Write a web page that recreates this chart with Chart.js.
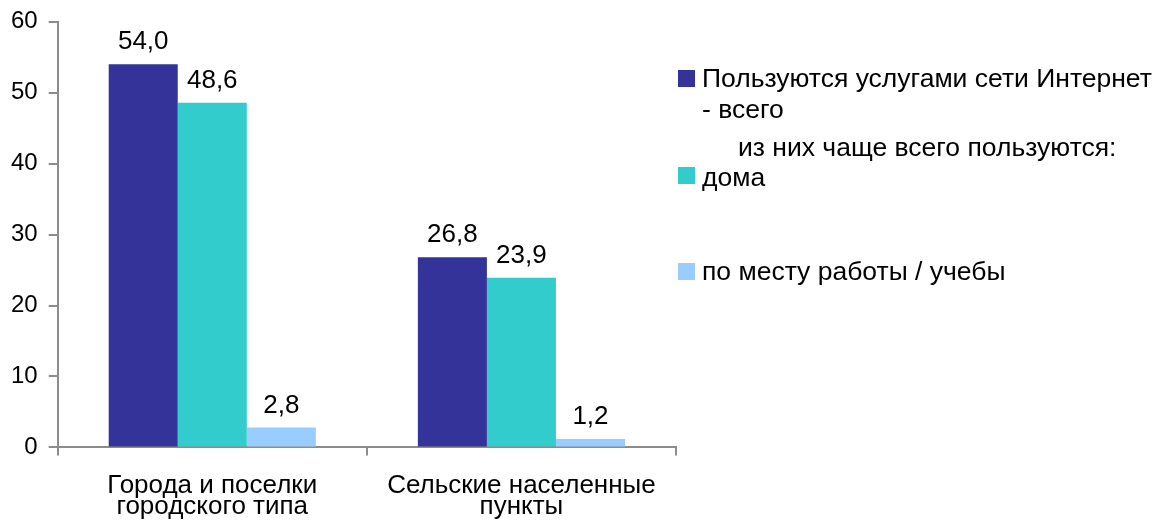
<!DOCTYPE html>
<html>
<head>
<meta charset="utf-8">
<script src="https://cdn.jsdelivr.net/npm/chart.js@4.4.1/dist/chart.umd.min.js"></script>
<style>
    html, body { margin: 0; padding: 0; background: #fff; }
    #wrap { position: relative; width: 1156px; height: 531px; font-family: 'Liberation Sans', Arial, sans-serif; }
    #legend { position: absolute; left: 0; top: 0; font-size: 26.5px; color: #000; }
    .lg-item { position: absolute; white-space: nowrap; line-height: 31px; }
    .lg-box { position: absolute; width: 17px; height: 17px; }
</style>
</head>
<body>
<div id="wrap">
    <canvas id="barChart" width="1156" height="531"></canvas>
    <div id="legend"></div>
</div>
<script>
    'use strict';

    // Categories (x axis)
    const categories = [['Города и поселки', 'городского типа'], ['Сельские населенные', 'пункты']];

    // Series
    const seriesNames = ['Пользуются услугами сети Интернет - всего', 'дома', 'по месту работы / учебы'];
    const totalValues = [54.0, 26.8];
    const homeValues = [48.6, 23.9];
    const workValues = [2.8, 1.2];

    // Y axis ticks
    const yTicks = [0, 10, 20, 30, 40, 50, 60];

    const legendSubtitle = 'из них чаще всего пользуются:';

    const colors = ['#333399', '#33CCCC', '#99CCFF'];
    const fontFamily = "'Liberation Sans', Arial, sans-serif";
    const axisColor = '#8c8c8c';

    const barData = {
        labels: categories,
        datasets: [totalValues, homeValues, workValues].map(function (vals, i) {
            return {
                label: seriesNames[i],
                data: vals,
                backgroundColor: colors[i],
                categoryPercentage: 0.67,
                barPercentage: 1.0
            };
        })
    };

    // draws value labels above each bar
    const valueLabels = {
        id: 'valueLabels',
        afterDatasetsDraw: function (chart) {
            const ctx = chart.ctx;
            ctx.save();
            ctx.font = '26px ' + fontFamily;
            ctx.fillStyle = '#000';
            ctx.textAlign = 'center';
            ctx.textBaseline = 'alphabetic';
            chart.data.datasets.forEach(function (ds, i) {
                chart.getDatasetMeta(i).data.forEach(function (bar, j) {
                    const txt = ds.data[j].toFixed(1).replace('.', ',');
                    ctx.fillText(txt, bar.x, bar.y - 15);
                });
            });
            ctx.restore();
        }
    };

    new Chart(document.getElementById('barChart'), {
        type: 'bar',
        data: barData,
        plugins: [valueLabels],
        options: {
            responsive: false,
            animation: false,
            layout: { padding: { left: 0, right: 480, top: 3, bottom: -6 } },
            plugins: { legend: { display: false }, tooltip: { enabled: false } },
            scales: {
                x: {
                    grid: { display: true, drawOnChartArea: false, drawTicks: true, tickLength: 8, color: axisColor, lineWidth: 2 },
                    border: { color: axisColor, width: 2 },
                    ticks: { color: '#000', font: { family: fontFamily, size: 26, lineHeight: 0.8 }, padding: 20, maxRotation: 0 }
                },
                y: {
                    min: 0,
                    max: 60,
                    afterBuildTicks: function (axis) {
                        axis.ticks = yTicks.map(function (v) { return { value: v }; });
                    },
                    grid: { display: true, drawOnChartArea: false, drawTicks: true, tickLength: 9, color: axisColor, lineWidth: 2 },
                    border: { color: axisColor, width: 2 },
                    ticks: { color: '#000', font: { family: fontFamily, size: 24, lineHeight: 0.9 }, padding: 11 }
                }
            }
        }
    });

    // legend on the right
    const legend = document.getElementById('legend');
    const legendRows = [
        { box: 0, x: 678, y: 70, html: 'Пользуются услугами сети Интернет<br>- всего', textX: 702, textY: 63 },
        { box: null, html: legendSubtitle, textX: 738, textY: 132 },
        { box: 1, x: 678, y: 167, html: seriesNames[1], textX: 702, textY: 162 },
        { box: 2, x: 678, y: 263, html: seriesNames[2], textX: 702, textY: 256 }
    ];
    legendRows.forEach(function (r) {
        if (r.box !== null) {
            const b = document.createElement('div');
            b.className = 'lg-box';
            b.style.left = r.x + 'px';
            b.style.top = r.y + 'px';
            b.style.background = colors[r.box];
            legend.appendChild(b);
        }
        const t = document.createElement('div');
        t.className = 'lg-item';
        t.style.left = r.textX + 'px';
        t.style.top = r.textY + 'px';
        t.innerHTML = r.html;
        legend.appendChild(t);
    });
</script>
</body>
</html>
